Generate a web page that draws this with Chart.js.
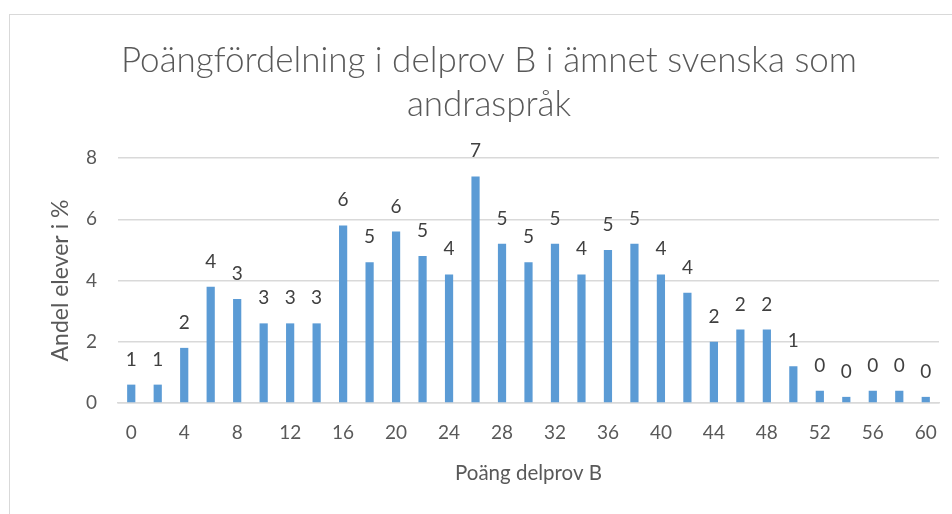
<!DOCTYPE html>
<html>
<head>
<meta charset="utf-8">
<script src="https://cdn.jsdelivr.net/npm/chart.js@4/dist/chart.umd.min.js"></script>
<style>
  html, body { margin: 0; padding: 0; background: #fff; overflow: hidden; }
  #frame {
    position: absolute; left: 9px; top: 14px;
    width: 962px; height: 510px;
    border-left: 1px solid #d9d9d9; border-top: 1px solid #d9d9d9;
  }
</style>
</head>
<body>
<div id="frame"><canvas id="poangChart" width="962" height="500"></canvas></div>
<script>
// Poäng (x-kategorier)
const poang = ['0', '2', '4', '6', '8', '10', '12', '14', '16', '18', '20', '22', '24', '26', '28', '30',
  '32', '34', '36', '38', '40', '42', '44', '46', '48', '50', '52', '54', '56', '58', '60'];
// Andel elever i % per poäng
const andel = [0.6, 0.6, 1.8, 3.8, 3.4, 2.6, 2.6, 2.6, 5.8, 4.6, 5.6, 4.8, 4.2, 7.4, 5.2, 4.6,
  5.2, 4.2, 5.0, 5.2, 4.2, 3.6, 2.0, 2.4, 2.4, 1.2, 0.4, 0.2, 0.4, 0.4, 0.2];
const yTicks = [0, 2, 4, 6, 8];

const textColor = '#595959';
const gridColor = '#d9d9d9';
const fontFamily = 'Lato, "Open Sans", sans-serif';

// etiketter ovanför staplarna (avrundade värden)
const barLabels = {
  id: 'barLabels',
  afterDatasetsDraw(chart) {
    const ctx = chart.ctx;
    const meta = chart.getDatasetMeta(0);
    ctx.save();
    ctx.font = '19px ' + fontFamily;
    ctx.fillStyle = '#404040';
    ctx.textAlign = 'center';
    ctx.textBaseline = 'alphabetic';
    meta.data.forEach((bar, i) => {
      ctx.fillText(String(Math.round(andel[i])), bar.x, bar.y - 19);
    });
    ctx.restore();
  }
};

const ctx = document.getElementById('poangChart').getContext('2d');
new Chart(ctx, {
  type: 'bar',
  data: {
    labels: poang,
    datasets: [{
      label: 'Andel',
      data: andel,
      backgroundColor: '#5b9bd5',
      borderWidth: 0,
      barPercentage: 0.31,
      categoryPercentage: 1.0
    }]
  },
  options: {
    responsive: false,
    animation: false,
    layout: { padding: { left: 29, right: 33, top: 0, bottom: 0 } },
    plugins: {
      legend: { display: false },
      tooltip: { enabled: false },
      title: {
        display: true,
        text: ['Poängfördelning i delprov B i ämnet svenska som', 'andraspråk'],
        color: textColor,
        font: { family: fontFamily, size: 35, weight: '300', lineHeight: 1.25 },
        padding: { top: 24, bottom: 31.5 }
      }
    },
    scales: {
      x: {
        grid: { display: false, drawTicks: false },
        border: { display: true, color: gridColor, width: 1.5 },
        ticks: {
          autoSkip: false,
          maxRotation: 0,
          padding: 18,
          color: textColor,
          font: { family: fontFamily, size: 19 },
          callback: function (value, index) {
            return index % 2 === 0 ? poang[index] : '';
          }
        },
        title: {
          display: true,
          text: 'Poäng delprov B',
          color: textColor,
          font: { family: fontFamily, size: 20.5 },
          padding: { top: 0, bottom: 29 }
        },
        afterFit(scale) { scale.height = 112; }
      },
      y: {
        min: 0,
        max: 8,
        afterBuildTicks(scale) { scale.ticks = yTicks.map(v => ({ value: v })); },
        grid: { color: gridColor, lineWidth: 1.5, drawTicks: false },
        border: { display: false },
        ticks: {
          padding: 21,
          color: textColor,
          font: { family: fontFamily, size: 19 }
        },
        title: {
          display: true,
          text: 'Andel elever i %',
          color: textColor,
          font: { family: fontFamily, size: 23 },
          padding: { top: 8, bottom: 0 }
        },
        afterFit(scale) { scale.width = 79; }
      }
    }
  },
  plugins: [barLabels]
});
</script>
</body>
</html>
